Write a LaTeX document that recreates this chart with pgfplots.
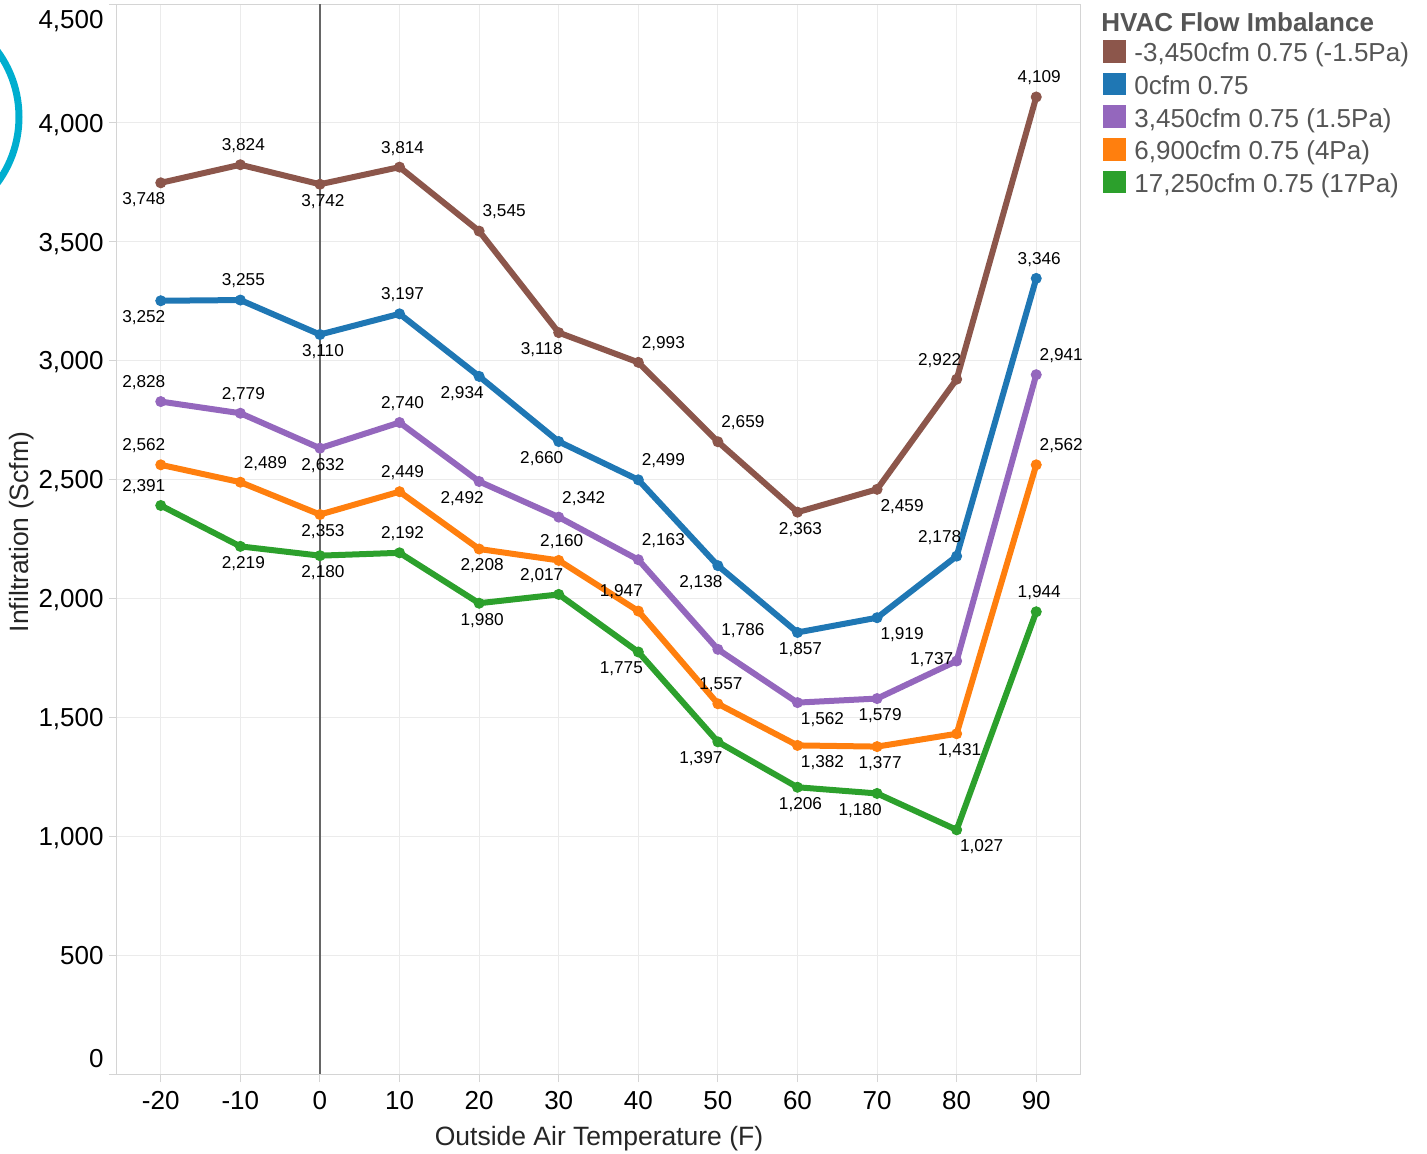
\documentclass[border=0pt]{standalone}
\usepackage{fontspec}
\setmainfont{Liberation Sans}
\usepackage{pgfplots}
\pgfplotsset{compat=1.18}
\usepackage{pgfplotstable}

\definecolor{cbrown}{HTML}{8C564B}
\definecolor{cblue}{HTML}{1F77B4}
\definecolor{cpurple}{HTML}{9467BD}
\definecolor{corange}{HTML}{FF7F0E}
\definecolor{cgreen}{HTML}{2CA02C}
\definecolor{gridgray}{HTML}{EBEBEB}
\definecolor{axisgray}{HTML}{D4D4D4}
\definecolor{zerogray}{HTML}{666666}
\definecolor{leggray}{HTML}{555555}
\definecolor{ringcyan}{HTML}{00AECF}

% x  y  dx(pt)  dy(pt) for the value label
\pgfplotstableread{
x y dx dy
-20 3748 -8.5 -8.5
-10 3824 1.5 9.5
0 3742 1.5 -8.5
10 3814 1.5 9.5
20 3545 12.5 9.5
30 3118 -8.5 -8.5
40 2993 12.5 9.5
50 2659 12.5 9.5
60 2363 1.5 -8.5
70 2459 12.5 -8.5
80 2922 -8.5 9.5
90 4109 1.5 9.5
}\brownT

\pgfplotstableread{
x y dx dy
-20 3252 -8.5 -8.5
-10 3255 1.5 9.5
0 3110 1.5 -8.5
10 3197 1.5 9.5
20 2934 -8.5 -8.5
30 2660 -8.5 -8.5
40 2499 12.5 9.5
50 2138 -8.5 -8.5
60 1857 1.5 -8.5
70 1919 12.5 -8.5
80 2178 -8.5 9.5
90 3346 1.5 9.5
}\blueT

\pgfplotstableread{
x y dx dy
-20 2828 -8.5 9.5
-10 2779 1.5 9.5
0 2632 1.5 -8.5
10 2740 1.5 9.5
20 2492 -8.5 -8.5
30 2342 12.5 9.5
40 2163 12.5 9.5
50 1786 12.5 9.5
60 1562 12.5 -8.5
70 1579 1.5 -8.5
80 1737 -12.5 0.5
90 2941 12.5 9.5
}\purpleT

\pgfplotstableread{
x y dx dy
-20 2562 -8.5 9.5
-10 2489 12.5 9.5
0 2353 1.5 -8.5
10 2449 1.5 9.5
20 2208 1.5 -8.5
30 2160 1.5 9.5
40 1947 -8.5 9.5
50 1557 1.5 9.5
60 1382 12.5 -8.5
70 1377 1.5 -8.5
80 1431 1.5 -8.5
90 2562 12.5 9.5
}\orangeT

\pgfplotstableread{
x y dx dy
-20 2391 -8.5 9.5
-10 2219 1.5 -8.5
0 2180 1.5 -8.5
10 2192 1.5 9.5
20 1980 1.5 -8.5
30 2017 -8.5 9.5
40 1775 -8.5 -8.5
50 1397 -8.5 -8.5
60 1206 1.5 -8.5
70 1180 -8.5 -8.5
80 1027 12.5 -8.5
90 1944 1.5 9.5
}\greenT

\begin{document}
\begin{tikzpicture}
\path[use as bounding box] (0,0) rectangle (713.5pt,-576.5pt);
\draw[color=ringcyan, line width=3.5pt] (-46pt,-58.5pt) circle (55.5pt);
\begin{axis}[
  at={(58.5pt,-537pt)}, anchor=south west,
  scale only axis, width=481.5pt, height=535pt,
  xmin=-25.5, xmax=95.5, ymin=0, ymax=4500,
  xtick={-20,-10,...,90}, ytick={0,500,...,4500},
  scaled y ticks=false, scaled x ticks=false,
  /pgf/number format/assume math mode=true,
  /pgf/number format/1000 sep={,},
  tick label style={font=\fontsize{13}{15}\selectfont, text=black},
  yticklabel={\smash{\raisebox{\ifnum\ticknum=0 3.5pt\else\ifnum\ticknum=9 -12.2pt\else -4.65pt\fi\fi}{\pgfmathprintnumber{\tick}}}},
  yticklabel style={anchor=east, inner sep=0pt, xshift=-2.5pt},
  xticklabel style={anchor=north, inner sep=0pt, yshift=-4.5pt},
  tick pos=left, tick align=outside, major tick length=4pt,
  tick style={draw=axisgray, line width=0.5pt},
  axis line style={draw=axisgray, line width=0.5pt},
  grid=major, major grid style={draw=gridgray, line width=0.5pt},
  extra x ticks={0}, extra x tick labels={},
  extra x tick style={grid=major, major grid style={draw=zerogray, line width=0.6pt}, major tick length=0pt},
  xlabel={Outside Air Temperature (F)},
  ylabel={Infiltration (Scfm)},
  label style={font=\fontsize{13.25}{15}\selectfont, text=black!85},
  xlabel style={at={(axis description cs:0.5005,-0.0607)}, anchor=center},
  ylabel style={at={(axis description cs:-0.0987,0.5065)}, anchor=center, rotate=0},
  every axis plot/.append style={line width=3pt, mark=*, mark size=2.5pt, mark options={solid, line width=0.5pt}},
  nodes near coords={\pgfmathprintnumber[assume math mode=true]{\pgfplotspointmeta}},
  point meta=y,
  visualization depends on={\thisrow{dx} \as \dx},
  visualization depends on={\thisrow{dy} \as \dy},
  every node near coord/.append style={anchor=center, text=black, font=\fontsize{8.6}{10}\selectfont, inner sep=0pt, xshift=\dx*1pt, yshift=\dy*1pt},
]
\addplot[color=cbrown] table[x=x,y=y] {\brownT};
\addplot[color=cblue] table[x=x,y=y] {\blueT};
\addplot[color=cpurple] table[x=x,y=y] {\purpleT};
\addplot[color=corange] table[x=x,y=y] {\orangeT};
\addplot[color=cgreen] table[x=x,y=y] {\greenT};
\end{axis}
% legend
\node[anchor=west, inner sep=0pt, text=leggray, font=\bfseries\fontsize{13}{15}\selectfont] at (550.5pt,-10.85pt) {HVAC Flow Imbalance};
\begin{scope}[every node/.style={anchor=base west, inner sep=0pt, text=leggray, font=\fontsize{13}{15}\selectfont}]
\fill[cbrown]  (551.7pt,-20pt)   rectangle ++(11.3pt,-11.3pt);
\node at (567pt,-30.85pt) {-3,450cfm 0.75 (-1.5Pa)};
\fill[cblue]   (551.7pt,-36.35pt) rectangle ++(11.3pt,-11.3pt);
\node at (567pt,-47.2pt) {0cfm 0.75};
\fill[cpurple] (551.7pt,-52.7pt) rectangle ++(11.3pt,-11.3pt);
\node at (567pt,-63.55pt) {3,450cfm 0.75 (1.5Pa)};
\fill[corange] (551.7pt,-69.05pt) rectangle ++(11.3pt,-11.3pt);
\node at (567pt,-79.9pt) {6,900cfm 0.75 (4Pa)};
\fill[cgreen]  (551.7pt,-85.4pt) rectangle ++(11.3pt,-11.3pt);
\node at (567pt,-96.25pt) {17,250cfm 0.75 (17Pa)};
\end{scope}
\end{tikzpicture}
\end{document}
